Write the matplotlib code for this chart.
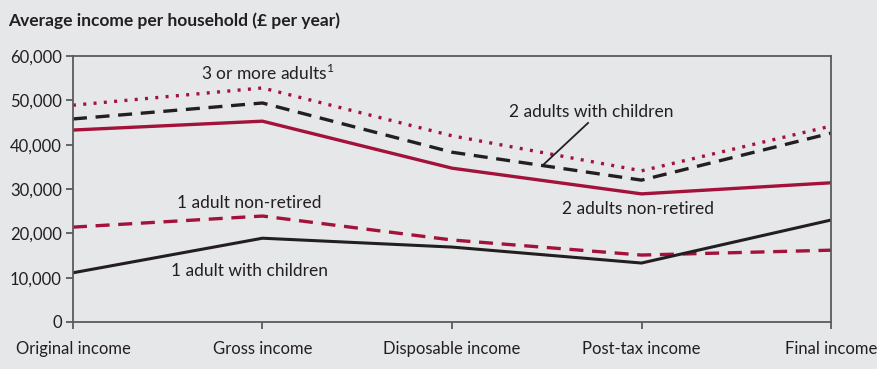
import matplotlib.pyplot as plt

stages = ['Original income', 'Gross income', 'Disposable income', 'Post-tax income', 'Final income']

three_plus_adults = [48900, 52800, 42000, 34100, 44200]
two_adults_children = [45800, 49400, 38300, 32000, 42600]
two_adults_non_retired = [43300, 45300, 34700, 28900, 31400]
one_adult_non_retired = [21400, 23900, 18500, 15100, 16200]
one_adult_children = [11100, 18900, 16900, 13300, 23000]

y_ticks = [0, 10000, 20000, 30000, 40000, 50000, 60000]

crimson = '#a3123a'
dark = '#231f20'
bg = '#e6e7e9'
spine_col = '#5a5b5d'

plt.rcParams['font.family'] = ['Lato', 'DejaVu Sans']
plt.rcParams['mathtext.fontset'] = 'custom'
plt.rcParams['mathtext.rm'] = 'Lato'

fig = plt.figure(figsize=(8.78, 3.69), dpi=100, facecolor=bg)
ax = fig.add_axes([0.0831, 0.1274, 0.8634, 0.7208])
ax.set_facecolor(bg)

x = list(range(len(stages)))
ax.plot(x, three_plus_adults, color=crimson, lw=2.4, linestyle=(0, (0.9, 2.2)), dash_capstyle='butt')
ax.plot(x, two_adults_children, color=dark, lw=2.4, linestyle=(0, (4.2, 2.6)))
ax.plot(x, two_adults_non_retired, color=crimson, lw=2.4)
ax.plot(x, one_adult_non_retired, color=crimson, lw=2.4, linestyle=(0, (4.2, 2.6)))
ax.plot(x, one_adult_children, color=dark, lw=2.2)

ax.set_xlim(0, 4)
ax.set_ylim(0, 60000)
ax.set_xticks(x)
ax.set_xticklabels(stages)
ax.set_yticks(y_ticks)
ax.set_yticklabels([f'{v:,}' for v in y_ticks])
ax.tick_params(axis='both', labelsize=12, colors=spine_col, labelcolor=dark, length=5, width=1.3)
ax.tick_params(axis='x', pad=9)
ax.tick_params(axis='y', pad=3)

for s in ax.spines.values():
    s.set_color(spine_col)
    s.set_linewidth(1.3)

txt = dict(fontsize=12.5, color=dark, ha='center', va='center')
ax.text(1.03, 56200, r'3 or more adults$^{\mathrm{1}}$', **txt)
ax.text(2.734, 47400, '2 adults with children', **txt)
ax.text(2.98, 25500, '2 adults non-retired', **txt)
ax.text(0.93, 26800, '1 adult non-retired', **txt)
ax.text(0.934, 11500, '1 adult with children', **txt)
ax.plot([2.718, 2.48], [44900, 35400], color=dark, lw=1.3)

fig.text(0.009, 0.945, 'Average income per household (£ per year)', fontsize=12.5,
         fontweight='bold', color=dark, ha='left', va='center')

fig.savefig('out.png', dpi=100, facecolor=bg)
